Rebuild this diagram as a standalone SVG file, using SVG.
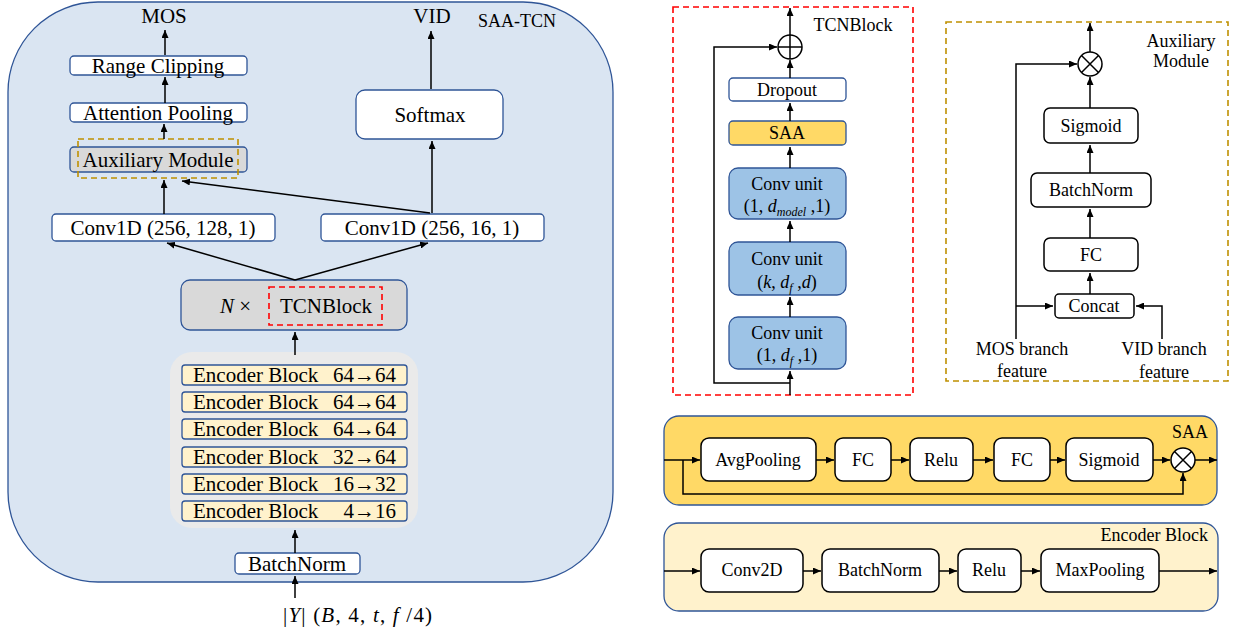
<svg xmlns="http://www.w3.org/2000/svg" width="1234" height="635" viewBox="0 0 1234 635">
<defs>
<marker id="ah" viewBox="0 0 8 7" refX="8" refY="3.5" markerWidth="8" markerHeight="7" markerUnits="userSpaceOnUse" orient="auto"><path d="M0,0 L8,3.5 L0,7 z" fill="#000"/></marker>
<style>
text{font-family:"Liberation Serif","Times New Roman",serif;fill:#000}
.t21{font-size:21px;text-anchor:middle}
.t18{font-size:18px;text-anchor:middle}
.bx{fill:#fff;stroke:#2f5597;stroke-width:1.3}
.bk{fill:#fff;stroke:#000;stroke-width:1.5}
.enc{fill:#fff2cc;stroke:#2f5597;stroke-width:1.3}
.conv{fill:#9dc3e6;stroke:#2f5597;stroke-width:1.3}
.ln{fill:none;stroke:#000;stroke-width:1.5}
.ar{fill:none;stroke:#000;stroke-width:1.5;marker-end:url(#ah)}
.red{fill:none;stroke:#ff0000;stroke-width:1.6;stroke-dasharray:6 4}
.gold{fill:none;stroke:#bf9000;stroke-width:1.6;stroke-dasharray:6 4}
.it{font-style:italic}
</style>
</defs>

<!-- Left panel SAA-TCN -->
<g id="saa-tcn-panel">
<rect x="8" y="2" width="605" height="580" rx="90" fill="#dae5f2" stroke="#2f5597" stroke-width="1.3"/>
<text x="517" y="27" class="t18">SAA-TCN</text>
</g>
<g id="mos-label"><text x="164" y="23" class="t21">MOS</text></g>
<g id="vid-label"><text x="432" y="23" class="t21">VID</text></g>
<g id="range-clipping"><rect x="70" y="56" width="177" height="19" rx="4" class="bx"/><text x="158" y="73" class="t21">Range Clipping</text></g>
<g id="attention-pooling"><rect x="70" y="103" width="177" height="19" rx="4" class="bx"/><text x="158" y="120" class="t21">Attention Pooling</text></g>
<g id="aux-module-node"><rect x="70" y="147" width="177" height="25" rx="4" fill="#d9d9d9" stroke="#2f5597" stroke-width="1.3"/><rect x="78" y="139" width="160" height="39" class="gold"/><text x="158" y="167" class="t21">Auxiliary Module</text></g>
<g id="conv1d-left"><rect x="52" y="214" width="223" height="27" rx="4" class="bx"/><text x="163" y="235" class="t21">Conv1D (256, 128, 1)</text></g>
<g id="conv1d-right"><rect x="321" y="214" width="223" height="27" rx="4" class="bx"/><text x="432" y="235" class="t21">Conv1D (256, 16, 1)</text></g>
<g id="softmax"><rect x="356" y="90" width="147" height="49" rx="9" class="bx"/><text x="430" y="122" class="t21">Softmax</text></g>
<g id="tcn-node"><rect x="181" y="280" width="226" height="50" rx="9" fill="#d9d9d9" stroke="#2f5597" stroke-width="1.3"/><rect x="269" y="287" width="113" height="38" class="red"/><text x="220" y="313" style="font-size:21px"><tspan class="it">N</tspan> ×</text><text x="326" y="313" class="t21">TCNBlock</text></g>
<g id="encoder-stack">
<rect x="170" y="352" width="248" height="176" rx="22" fill="#eaeaea"/>
<rect x="182" y="365" width="225" height="20" rx="3" class="enc"/><text x="193" y="382" style="font-size:21px">Encoder Block</text><text x="396" y="382" style="font-size:21px;text-anchor:end">64→64</text>
<rect x="182" y="392" width="225" height="20" rx="3" class="enc"/><text x="193" y="409" style="font-size:21px">Encoder Block</text><text x="396" y="409" style="font-size:21px;text-anchor:end">64→64</text>
<rect x="182" y="419" width="225" height="20" rx="3" class="enc"/><text x="193" y="436" style="font-size:21px">Encoder Block</text><text x="396" y="436" style="font-size:21px;text-anchor:end">64→64</text>
<rect x="182" y="447" width="225" height="20" rx="3" class="enc"/><text x="193" y="464" style="font-size:21px">Encoder Block</text><text x="396" y="464" style="font-size:21px;text-anchor:end">32→64</text>
<rect x="182" y="474" width="225" height="20" rx="3" class="enc"/><text x="193" y="491" style="font-size:21px">Encoder Block</text><text x="396" y="491" style="font-size:21px;text-anchor:end">16→32</text>
<rect x="182" y="501" width="225" height="20" rx="3" class="enc"/><text x="193" y="518" style="font-size:21px">Encoder Block</text><text x="396" y="518" style="font-size:21px;text-anchor:end">4→16</text>
</g>
<g id="batchnorm-left"><rect x="235" y="553" width="125" height="21" rx="4" class="bx"/><text x="297" y="571" class="t21">BatchNorm</text></g>
<g id="input-label"><text x="283" y="622" style="font-size:21px;letter-spacing:1.2px">|<tspan class="it">Y</tspan>| (<tspan class="it">B</tspan>, 4, <tspan class="it">t</tspan>, <tspan class="it">f</tspan> /4)</text></g>

<!-- TCNBlock detail -->
<g id="tcnblock-panel"><rect x="673" y="7" width="240" height="388" class="red"/><text x="853" y="31" class="t18">TCNBlock</text></g>
<g id="oplus"><circle cx="790" cy="47" r="12" fill="#fff" stroke="#000" stroke-width="1.5"/><path d="M778,47 H802 M790,35 V59" class="ln"/></g>
<g id="dropout"><rect x="729" y="78" width="117" height="23" rx="4" class="bx"/><text x="787" y="96" class="t18">Dropout</text></g>
<g id="saa-node"><rect x="729" y="121" width="117" height="24" rx="4" fill="#ffd966" stroke="#2f5597" stroke-width="1.3"/><text x="787" y="139" class="t18">SAA</text></g>
<g id="conv-unit-1"><rect x="729" y="168" width="117" height="51" rx="9" class="conv"/><text x="787" y="190" class="t18">Conv unit</text><text x="787" y="212" class="t18">(1, <tspan class="it">d</tspan><tspan class="it" style="font-size:12px" dy="4">model</tspan><tspan dy="-4"> ,1)</tspan></text></g>
<g id="conv-unit-2"><rect x="729" y="242" width="117" height="53" rx="9" class="conv"/><text x="787" y="265" class="t18">Conv unit</text><text x="787" y="288" class="t18">(<tspan class="it">k</tspan>, <tspan class="it">d</tspan><tspan class="it" style="font-size:12px" dy="4">f</tspan><tspan dy="-4"> ,</tspan><tspan class="it">d</tspan>)</text></g>
<g id="conv-unit-3"><rect x="729" y="317" width="117" height="52" rx="9" class="conv"/><text x="787" y="339" class="t18">Conv unit</text><text x="787" y="361" class="t18">(1, <tspan class="it">d</tspan><tspan class="it" style="font-size:12px" dy="4">f</tspan><tspan dy="-4"> ,1)</tspan></text></g>

<!-- Auxiliary module detail -->
<g id="aux-panel"><rect x="946" y="22" width="282" height="359" class="gold"/><text x="1181" y="47" class="t18">Auxiliary</text><text x="1181" y="67" class="t18">Module</text></g>
<g id="aux-otimes"><circle cx="1090" cy="64" r="12" fill="#fff" stroke="#000" stroke-width="1.5"/><path d="M1081.5,55.5 L1098.5,72.5 M1098.5,55.5 L1081.5,72.5" class="ln"/></g>
<g id="aux-sigmoid"><rect x="1044" y="108" width="94" height="35" rx="6" class="bk"/><text x="1091" y="132" class="t18">Sigmoid</text></g>
<g id="aux-batchnorm"><rect x="1031" y="173" width="120" height="34" rx="6" class="bk"/><text x="1091" y="196" class="t18">BatchNorm</text></g>
<g id="aux-fc"><rect x="1044" y="238" width="94" height="33" rx="6" class="bk"/><text x="1091" y="261" class="t18">FC</text></g>
<g id="aux-concat"><rect x="1055" y="294" width="79" height="24" rx="4" class="bk"/><text x="1094" y="312" class="t18">Concat</text></g>
<g id="mos-branch"><text x="1022" y="355" class="t18">MOS branch</text><text x="1022" y="377" class="t18">feature</text></g>
<g id="vid-branch"><text x="1164" y="355" class="t18">VID branch</text><text x="1164" y="378" class="t18">feature</text></g>

<!-- SAA detail -->
<g id="saa-panel"><rect x="664" y="416" width="553" height="89" rx="15" fill="#ffd966" stroke="#2f5597" stroke-width="1.3"/><text x="1208" y="438" style="font-size:18px;text-anchor:end">SAA</text></g>
<g id="saa-avgpool"><rect x="701" y="438" width="115" height="43" rx="8" class="bk"/><text x="758" y="466" class="t18">AvgPooling</text></g>
<g id="saa-fc1"><rect x="835" y="438" width="56" height="43" rx="8" class="bk"/><text x="863" y="466" class="t18">FC</text></g>
<g id="saa-relu"><rect x="910" y="438" width="63" height="43" rx="8" class="bk"/><text x="941" y="466" class="t18">Relu</text></g>
<g id="saa-fc2"><rect x="994" y="438" width="56" height="43" rx="8" class="bk"/><text x="1022" y="466" class="t18">FC</text></g>
<g id="saa-sigmoid"><rect x="1066" y="438" width="87" height="43" rx="8" class="bk"/><text x="1109" y="466" class="t18">Sigmoid</text></g>
<g id="saa-otimes"><circle cx="1183" cy="460" r="12" fill="#fff" stroke="#000" stroke-width="1.5"/><path d="M1174.5,451.5 L1191.5,468.5 M1191.5,451.5 L1174.5,468.5" class="ln"/></g>

<!-- Encoder Block detail -->
<g id="encoder-panel"><rect x="664" y="523" width="554" height="88" rx="15" fill="#fff2cc" stroke="#2f5597" stroke-width="1.3"/><text x="1208" y="541" style="font-size:18px;text-anchor:end">Encoder Block</text></g>
<g id="enc-conv2d"><rect x="701" y="549" width="102" height="43" rx="8" class="bk"/><text x="752" y="576" class="t18">Conv2D</text></g>
<g id="enc-batchnorm"><rect x="822" y="549" width="117" height="43" rx="8" class="bk"/><text x="880" y="576" class="t18">BatchNorm</text></g>
<g id="enc-relu"><rect x="958" y="549" width="63" height="43" rx="8" class="bk"/><text x="989" y="576" class="t18">Relu</text></g>
<g id="enc-maxpool"><rect x="1041" y="549" width="118" height="43" rx="8" class="bk"/><text x="1100" y="576" class="t18">MaxPooling</text></g>

<g id="connectors">
<!-- left panel -->
<path d="M165,55 V30" class="ar"/>
<path d="M165,103 V77" class="ar"/>
<path d="M164,139 V124" class="ar"/>
<path d="M164,214 V180" class="ar"/>
<path d="M430,213 L182,181" class="ar"/>
<path d="M432,213 V141" class="ar"/>
<path d="M431,89 V31" class="ar"/>
<path d="M295,280 L167,243" class="ar"/>
<path d="M295,280 L428,243" class="ar"/>
<path d="M295,355 V332" class="ar"/>
<path d="M295,553 V530" class="ar"/>
<path d="M295,598 V576" class="ar"/>
<!-- TCNBlock -->
<path d="M790,35 V8" class="ar"/>
<path d="M790,78 V60" class="ar"/>
<path d="M790,121 V103" class="ar"/>
<path d="M790,168 V147" class="ar"/>
<path d="M790,242 V221" class="ar"/>
<path d="M790,317 V297" class="ar"/>
<path d="M790,395 V371" class="ar"/>
<path d="M790,383 H714 V47 H777" class="ar"/>
<!-- Aux -->
<path d="M1090,52 V23" class="ar"/>
<path d="M1090,108 V77" class="ar"/>
<path d="M1090,173 V145" class="ar"/>
<path d="M1090,238 V209" class="ar"/>
<path d="M1090,294 V273" class="ar"/>
<path d="M1016,339 V64 H1077" class="ar"/>
<path d="M1016,306 H1053" class="ar"/>
<path d="M1162,339 V306 H1136" class="ar"/>
<!-- SAA -->
<path d="M664,460 H700" class="ar"/>
<path d="M816,460 H834" class="ar"/>
<path d="M891,460 H909" class="ar"/>
<path d="M973,460 H993" class="ar"/>
<path d="M1050,460 H1065" class="ar"/>
<path d="M1153,460 H1170" class="ar"/>
<path d="M1195,460 H1217" class="ar"/>
<path d="M683,460 V494 H1183 V473" class="ar"/>
<!-- Encoder -->
<path d="M664,571 H700" class="ar"/>
<path d="M803,571 H821" class="ar"/>
<path d="M939,571 H957" class="ar"/>
<path d="M1021,571 H1040" class="ar"/>
<path d="M1159,571 H1217" class="ar"/>
</g>
</svg>
